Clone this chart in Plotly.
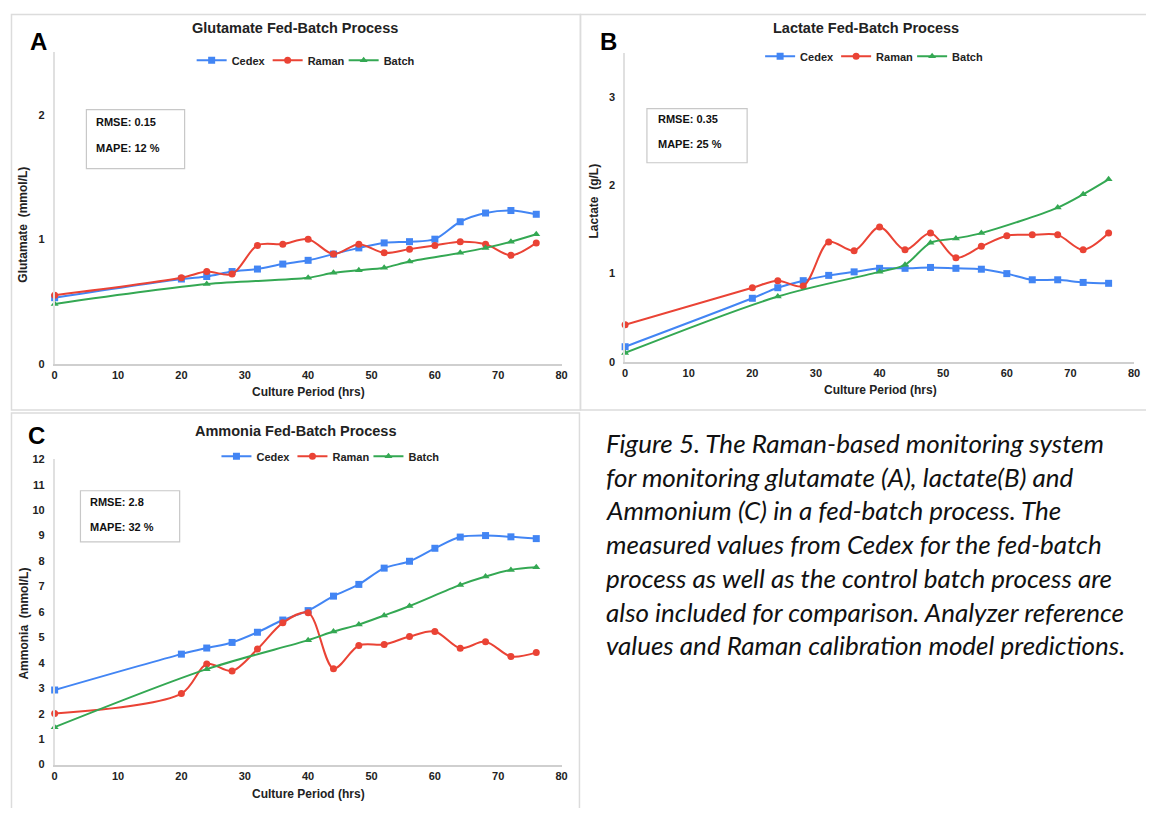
import plotly.graph_objects as go

# page body has an 8px margin: the figure is sized so the page fills the window exactly
OFF = 8
W, H = 1154 - 2 * OFF, 816 - 2 * OFF

# ---------------- data ----------------
hours = [0, 20, 24, 28, 32, 36, 40, 44, 48, 52, 56, 60, 64, 68, 72, 76]
batch_hours_a = [0, 24, 40, 44, 48, 52, 56, 64, 68, 72, 76]
batch_hours_b = [0, 24, 40, 44, 48, 52, 56, 68, 72, 76]
batch_hours_c = [0, 24, 40, 44, 48, 52, 56, 64, 68, 72, 76]

glu_cedex = [0.53, 0.68, 0.70, 0.74, 0.76, 0.80, 0.83, 0.88, 0.93, 0.97, 0.98, 1.00, 1.14, 1.21, 1.23, 1.20]
glu_raman = [0.55, 0.69, 0.74, 0.72, 0.95, 0.96, 1.00, 0.88, 0.96, 0.89, 0.92, 0.95, 0.98, 0.96, 0.87, 0.97]
glu_batch = [0.48, 0.64, 0.69, 0.73, 0.75, 0.77, 0.82, 0.89, 0.93, 0.98, 1.04]

lac_cedex = [0.17, 0.72, 0.84, 0.92, 0.98, 1.02, 1.06, 1.06, 1.07, 1.06, 1.05, 1.00, 0.93, 0.93, 0.90, 0.89]
lac_raman = [0.42, 0.84, 0.92, 0.86, 1.36, 1.26, 1.53, 1.27, 1.46, 1.18, 1.31, 1.43, 1.44, 1.44, 1.27, 1.46]
lac_batch = [0.10, 0.74, 1.02, 1.10, 1.35, 1.40, 1.46, 1.75, 1.90, 2.07]

amm_cedex = [2.93, 4.34, 4.58, 4.80, 5.20, 5.68, 6.05, 6.62, 7.08, 7.72, 7.99, 8.50, 8.94, 9.00, 8.95, 8.88]
amm_raman = [2.01, 2.79, 3.95, 3.68, 4.54, 5.57, 5.97, 3.77, 4.68, 4.72, 5.03, 5.23, 4.57, 4.83, 4.25, 4.40]
amm_batch = [1.47, 3.75, 4.89, 5.23, 5.50, 5.86, 6.23, 7.06, 7.39, 7.65, 7.75]

series_names = ["Cedex", "Raman", "Batch"]
titles = ["Glutamate Fed-Batch Process", "Lactate Fed-Batch Process", "Ammonia Fed-Batch Process"]
ytitles = ["Glutamate\u00a0 (mmol/L)", "Lactate\u00a0 (g/L)", "Ammonia\u00a0 (mmol/L)"]
xtitle = "Culture Period (hrs)"
letters = ["A", "B", "C"]
stats = [("RMSE: 0.15", "MAPE: 12 %"), ("RMSE: 0.35", "MAPE: 25 %"), ("RMSE: 2.8", "MAPE: 32 %")]
caption_lines = [
    "Figure 5. The Raman-based monitoring system",
    "for monitoring glutamate (A), lactate(B) and",
    "Ammonium (C) in a fed-batch process. The",
    "measured values from Cedex for the fed-batch",
    "process as well as the control batch process are",
    "also included for comparison. Analyzer reference",
    "values and Raman calibration model predictions.",
]

# ---------------- style ----------------
FONT = "Liberation Sans, Arial, sans-serif"
COLORS = ["#4285F4", "#EA4335", "#34A853"]
SYMBOLS = ["square", "circle", "triangle-up"]


def px(x):
    return (x - OFF) / W


def py(y):
    return 1 - (y - OFF) / H


# panel geometry in window pixels: plot-area left, right, top, bottom
panels = [
    dict(l=52, r=563, t=47, b=363, yr=[0, 2.5], yt=[0, 1, 2]),
    dict(l=627, r=1140, t=48, b=361, yr=[0, 3.5], yt=[0, 1, 2, 3]),
    dict(l=52, r=563, t=460, b=770, yr=[0, 12], yt=list(range(0, 13))),
]

data_sets = [
    [(hours, glu_cedex), (hours, glu_raman), (batch_hours_a, glu_batch)],
    [(hours, lac_cedex), (hours, lac_raman), (batch_hours_b, lac_batch)],
    [(hours, amm_cedex), (hours, amm_raman), (batch_hours_c, amm_batch)],
]

fig = go.Figure()
layout = {}
annotations = []
shapes = []

legend_pos = [(305, 55), (878, 51), (330, 457)]
title_pos = [(294, 22), (870, 22), (295, 431)]
letter_pos = [(36, 36), (610, 36), (34, 436)]
ytitle_pos = [(20, 222), (596, 198), (21, 627)]
xtitle_pos = [(308, 392), (884, 390), (308, 800)]
box_rects = [(84, 105, 183, 165), (649, 104, 750, 159), (78, 492, 178, 544)]
box_text = [((92, 118), (92, 144)), ((658, 115), (658, 140)), ((86, 503), (86, 529))]

for i, p in enumerate(panels):
    sfx = "" if i == 0 else str(i + 1)
    leg = "legend" + sfx
    for j, (xs, ys) in enumerate(data_sets[i]):
        fig.add_trace(go.Scatter(
            x=xs, y=ys, name=series_names[j], mode="lines+markers",
            line=dict(color=COLORS[j], width=2, shape="spline", smoothing=0.9),
            marker=dict(color=COLORS[j], symbol=SYMBOLS[j], size=7),
            xaxis="x" + sfx, yaxis="y" + sfx, legend=leg, cliponaxis=False,
        ))
    layout["xaxis" + sfx] = dict(
        domain=[px(p["l"]), px(p["r"])], range=[0, 80], dtick=10, anchor="y" + sfx,
        showline=True, linecolor="#cfcfcf", linewidth=1.5, showgrid=False, zeroline=False,
        ticks="", tickfont=dict(family=FONT, size=11, color="#222", weight="bold"),
        fixedrange=True,
    )
    layout["yaxis" + sfx] = dict(
        domain=[py(p["b"]), py(p["t"])], range=p["yr"], tickvals=p["yt"], anchor="x" + sfx,
        showline=True, linecolor="#e0e0e0", linewidth=1.5, showgrid=False, zeroline=False,
        ticks="", tickfont=dict(family=FONT, size=11, color="#222", weight="bold"),
        ticklabelstandoff=6, fixedrange=True,
    )
    lx, ly = legend_pos[i]
    layout[leg] = dict(
        orientation="h", x=px(lx), y=py(ly), xanchor="center", yanchor="middle",
        font=dict(family=FONT, size=11, color="#222", weight="bold"),
        bgcolor="rgba(0,0,0,0)", itemwidth=30, entrywidth=31, entrywidthmode="pixels",
    )
    tx, ty = title_pos[i]
    annotations.append(dict(x=px(tx), y=py(ty), xref="paper", yref="paper", text=titles[i],
                            showarrow=False, xanchor="center", yanchor="middle",
                            font=dict(family=FONT, size=14.5, color="#222", weight="bold")))
    lx2, ly2 = letter_pos[i]
    annotations.append(dict(x=px(lx2), y=py(ly2), xref="paper", yref="paper", text=letters[i],
                            showarrow=False, xanchor="center", yanchor="middle",
                            font=dict(family=FONT, size=24, color="#000", weight="bold")))
    yx, yy = ytitle_pos[i]
    annotations.append(dict(x=px(yx), y=py(yy), xref="paper", yref="paper", text=ytitles[i],
                            showarrow=False, xanchor="center", yanchor="middle", textangle=-90,
                            font=dict(family=FONT, size=12, color="#222", weight="bold")))
    xx, xy = xtitle_pos[i]
    annotations.append(dict(x=px(xx), y=py(xy), xref="paper", yref="paper", text=xtitle,
                            showarrow=False, xanchor="center", yanchor="middle",
                            font=dict(family=FONT, size=12, color="#222", weight="bold")))
    x0, y0, x1, y1 = box_rects[i]
    shapes.append(dict(type="rect", xref="paper", yref="paper", x0=px(x0), x1=px(x1),
                       y0=py(y1), y1=py(y0), line=dict(color="#c8c8c8", width=1.2)))
    for k, (sx, sy) in enumerate(box_text[i]):
        annotations.append(dict(x=px(sx), y=py(sy), xref="paper", yref="paper", text=stats[i][k],
                                showarrow=False, xanchor="left", yanchor="middle",
                                font=dict(family=FONT, size=11, color="#111", weight="bold")))

# panel borders
for (x0, y0, x1, y1) in [(8.5, 8.5, 582, 410), (582, 8.5, 1160, 410), (8.5, 413, 581, 830)]:
    shapes.append(dict(type="rect", xref="paper", yref="paper", x0=px(x0), x1=px(x1),
                       y0=py(y1), y1=py(y0), line=dict(color="#dcdcdc", width=1.5)))

# caption
cap_y = [444, 478, 512, 546, 581, 615, 649]
for line, yy in zip(caption_lines, cap_y):
    annotations.append(dict(x=px(606), y=py(yy), xref="paper", yref="paper", text="<i>" + line + "</i>",
                            showarrow=False, xanchor="left", yanchor="middle",
                            font=dict(family="Lato, Noto Sans, sans-serif", size=26, color="#111")))

fig.update_layout(
    width=W, height=H, margin=dict(l=0, r=0, t=0, b=0),
    paper_bgcolor="white", plot_bgcolor="white",
    annotations=annotations, shapes=shapes, **layout,
)

fig.write_html("out.html")
